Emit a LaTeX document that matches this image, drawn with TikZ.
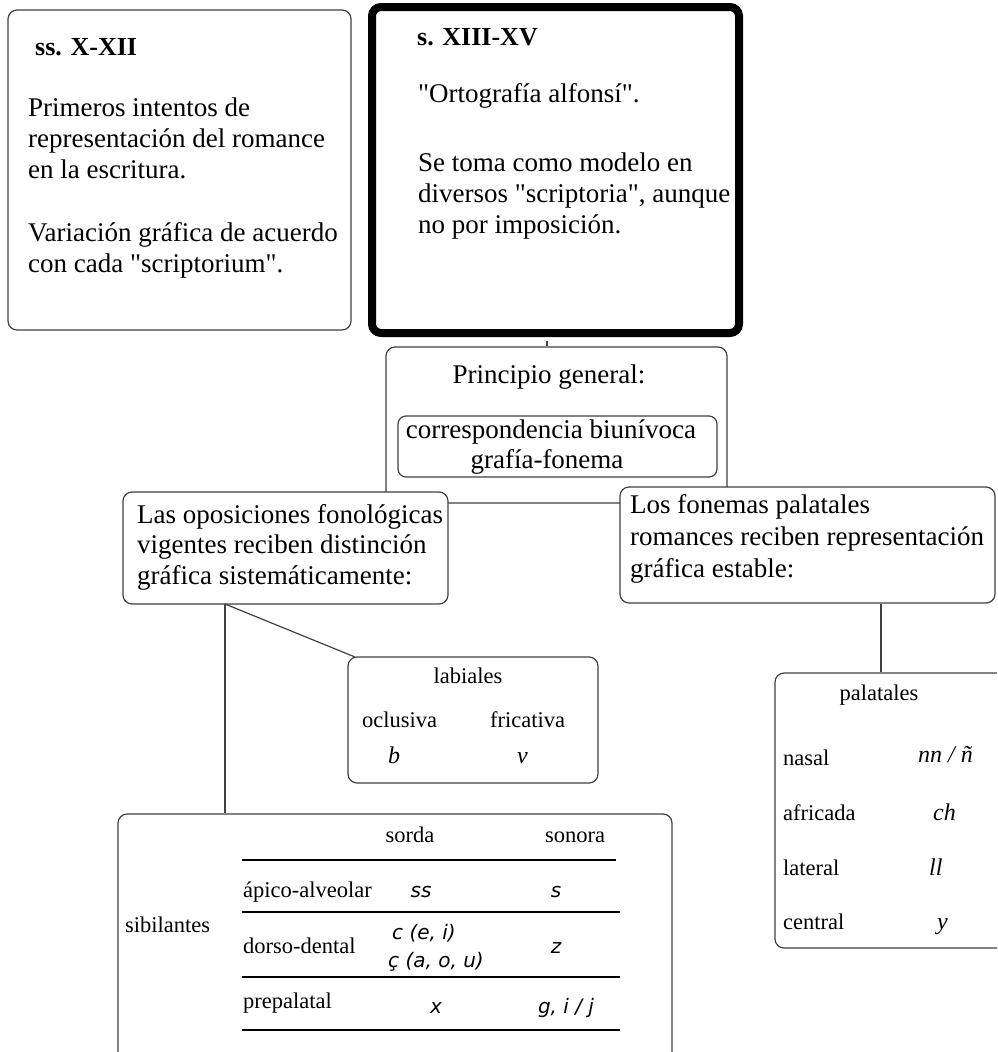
\documentclass[tikz,border=0pt]{standalone}
\usepackage{fontspec}
\setmainfont{Liberation Serif}
\newfontfamily\sibfont{DejaVu Sans}
\definecolor{boxgray}{HTML}{404040}
\tikzset{
  bx/.style={draw=boxgray, line width=1.2pt, rounded corners=9pt, fill=white, inner sep=0pt},
  thickbx/.style={draw=black, line width=8pt, rounded corners=9pt, fill=white, inner sep=0pt},
  conn/.style={draw=boxgray, line width=1.2pt},
  rule/.style={draw=black, line width=1.2pt},
  big/.style={font=\fontsize{27}{31}\selectfont, inner sep=0pt},
  bigb/.style={font=\fontsize{26}{30}\selectfont\bfseries, inner sep=0pt},
  sm/.style={font=\fontsize{22.5}{26}\selectfont, inner sep=0pt},
  smi/.style={font=\fontsize{24}{26}\selectfont\itshape, inner sep=0pt},
  sib/.style={font=\fontsize{20}{24}\selectfont\sibfont\itshape, inner sep=0pt},
}
\newcommand{\qq}{\textquotedbl}
\begin{document}
\begin{tikzpicture}[x=1pt,y=-1pt]
\useasboundingbox (0,0) rectangle (997,1052);
\clip (0,0) rectangle (997,1052);

% Box A
\node[bx, minimum width=343pt, minimum height=320pt] (A) at (179.5,170) {};
\node[bigb, anchor=base west] (At) at (35,55) {ss. X-XII};
\node[big, anchor=base west] (A1) at (28,116) {Primeros intentos de};
\node[big, anchor=base west] (A2) at (28,147) {representación del romance};
\node[big, anchor=base west] (A3) at (28,178) {en la escritura.};
\node[big, anchor=base west] (A4) at (28,241) {Variación gráfica de acuerdo};
\node[big, anchor=base west] (A5) at (28,272) {con cada \qq scriptorium\qq.};

% Box C (drawn before D/E so they overlap it)
\node[bx, minimum width=341pt, minimum height=156pt] (C) at (556.5,425) {};
\node[big, anchor=base] (Ct) at (549,383) {Principio general:};
\node[bx, minimum width=319pt, minimum height=61pt, rounded corners=8pt] (Ci) at (557.5,446.5) {};
\node[big, anchor=base] (Ci1) at (551,438) {correspondencia biunívoca};
\node[big, anchor=base] (Ci2) at (547,468) {grafía-fonema};

% Box B
\node[thickbx, minimum width=367pt, minimum height=326pt] (B) at (555.5,170) {};
\node[bigb, anchor=base west] (Bt) at (417,45) {s. XIII-XV};
\node[big, anchor=base west] (B1) at (418,102) {\qq Ortografía alfonsí\qq.};
\node[big, anchor=base west] (B2) at (418,171) {Se toma como modelo en};
\node[big, anchor=base west] (B3) at (418,202) {diversos \qq scriptoria\qq, aunque};
\node[big, anchor=base west] (B4) at (418,233) {no por imposición.};
\draw[conn] (B.south -| 547,0) ++(0,4) -- (C.north -| 547,0);

% Box D
\node[bx, minimum width=325pt, minimum height=112pt] (D) at (285.5,548) {};
\node[big, anchor=base west] (D1) at (137,523) {Las oposiciones fonológicas};
\node[big, anchor=base west] (D2) at (137,553) {vigentes reciben distinción};
\node[big, anchor=base west] (D3) at (137,584) {gráfica sistemáticamente:};

% Box E
\node[bx, minimum width=375pt, minimum height=116pt] (E) at (807.5,545) {};
\node[big, anchor=base west] (E1) at (630,513) {Los fonemas palatales};
\node[big, anchor=base west] (E2) at (630,545) {romances reciben representación};
\node[big, anchor=base west] (E3) at (630,577) {gráfica estable:};

% labiales
\node[bx, minimum width=250pt, minimum height=126pt] (L) at (473,720) {};
\node[sm, anchor=base] (Lt) at (468,683) {labiales};
\node[sm, anchor=base west] (L1) at (362,727) {oclusiva};
\node[sm, anchor=base west] (L2) at (490,727) {fricativa};
\node[smi, anchor=base west] (L3) at (388,763) {b};
\node[smi, anchor=base west] (L4) at (517,763) {v};

% sibilantes
\node[bx, minimum width=554pt, minimum height=270pt] (S) at (395,949) {};
\coordinate (Dout) at (225,604);
\draw[conn] (Dout) -- (Dout |- S.north);
\draw[conn] (Dout) -- (355,657) coordinate (Lin);
\node[sm, anchor=base] (Sh1) at (410,842) {sorda};
\node[sm, anchor=base] (Sh2) at (575,842) {sonora};
\draw[rule] (242,860) coordinate (r1a) -- (616,860) coordinate (r1b);
\node[sm, anchor=base west] (S1) at (243,897) {ápico-alveolar};
\node[sib, anchor=base] (S1a) at (421,897) {ss};
\node[sib, anchor=base] (S1b) at (556,897) {s};
\draw[rule] (242,912) coordinate (r2a) -- (620,912) coordinate (r2b);
\node[sm, anchor=base west] (Sl) at (125,932) {sibilantes};
\node[sm, anchor=base west] (S2) at (243,953) {dorso-dental};
\node[sib, anchor=base west] (S2a) at (392,939) {c (e, i)};
\node[sib, anchor=base west] (S2b) at (388,967) {ç (a, o, u)};
\node[sib, anchor=base] (S2c) at (556,953) {z};
\draw[rule] (242,977) coordinate (r3a) -- (620,977) coordinate (r3b);
\node[sm, anchor=base west] (S3) at (243,1008) {prepalatal};
\node[sib, anchor=base] (S3a) at (436,1013) {x};
\node[sib, anchor=base] (S3b) at (566,1013) {g, i / j};
\draw[rule] (242,1030) coordinate (r4a) -- (620,1030) coordinate (r4b);

% palatales
\node[bx, minimum width=232pt, minimum height=275pt] (P) at (891,810.5) {};
\draw[conn] (E.south -| 881,0) -- (P.north -| 881,0);
\node[sm, anchor=base] (Pt) at (879,700) {palatales};
\node[sm, anchor=base west] (P1) at (783,765) {nasal};
\node[smi, anchor=base west] (P1a) at (918,762) {nn / ñ};
\node[sm, anchor=base west] (P2) at (783,820) {africada};
\node[smi, anchor=base west] (P2a) at (933,820) {ch};
\node[sm, anchor=base west] (P3) at (783,875) {lateral};
\node[smi, anchor=base west] (P3a) at (929,875) {ll};
\node[sm, anchor=base west] (P4) at (783,929) {central};
\node[smi, anchor=base west] (P4a) at (937,929) {y};
\end{tikzpicture}
\end{document}
